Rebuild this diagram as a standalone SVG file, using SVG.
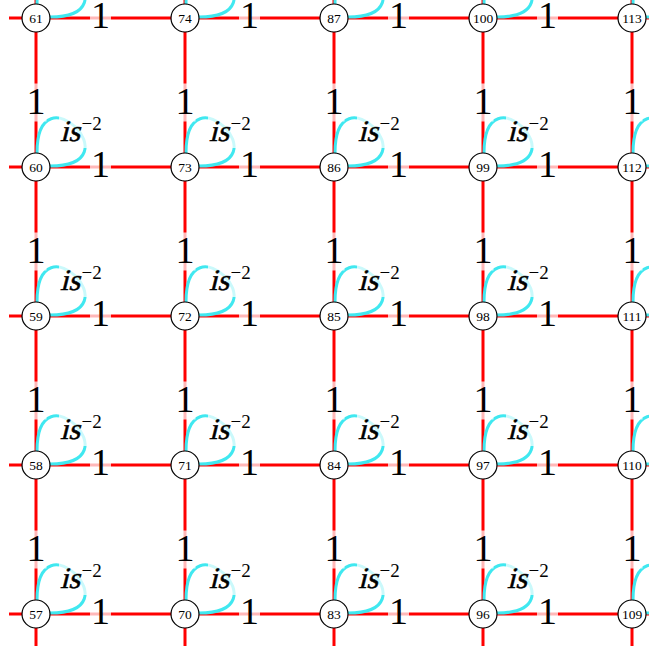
<svg xmlns="http://www.w3.org/2000/svg" xmlns:xlink="http://www.w3.org/1999/xlink" width="649" height="646" viewBox="0 0 649 646">
<style>
.e{stroke:#ff0000;stroke-width:3;fill:none}
.lp{stroke:#40e8f0;stroke-width:3;fill:none}
.bg{fill:#ffffff;fill-opacity:0.72}
.one{font-family:"Liberation Serif","Times New Roman",serif;font-size:38px;text-anchor:middle;fill:#000}
.ls{font-family:"Liberation Serif","Times New Roman",serif;font-size:30px;fill:#000;stroke:#000;stroke-width:0.5}
.sup{font-family:"Liberation Serif","Times New Roman",serif;font-size:19px;fill:#000}
.nd circle{fill:#fff;stroke:#000;stroke-width:1.2}
.nd text{font-family:"Liberation Serif","Times New Roman",serif;font-size:13.5px;text-anchor:middle;fill:#000}
</style>
<defs>
<path id="loop" class="lp" d="M1,-14 C1,-100 100,-1 14,-1"/>
<g id="looplabel"><rect class="bg" x="23" y="-53" width="44" height="34"/><g transform="translate(24,-26) skewX(-14)"><text class="ls" x="0" y="0">is</text></g><text class="sup" x="45.5" y="-37">−2</text></g>
<g id="hl"><rect class="bg" x="-10.5" y="-30" width="21" height="38"/><text class="one" x="0" y="0">1</text></g>
</defs>
<g id="connectors">
<g id="edges">
<line class="e" x1="9" y1="18" x2="649" y2="18"/>
<line class="e" x1="9" y1="167" x2="649" y2="167"/>
<line class="e" x1="9" y1="316" x2="649" y2="316"/>
<line class="e" x1="9" y1="465" x2="649" y2="465"/>
<line class="e" x1="9" y1="614" x2="649" y2="614"/>
<line class="e" x1="36" y1="0" x2="36" y2="646"/>
<line class="e" x1="185" y1="0" x2="185" y2="646"/>
<line class="e" x1="334" y1="0" x2="334" y2="646"/>
<line class="e" x1="483" y1="0" x2="483" y2="646"/>
<line class="e" x1="632" y1="0" x2="632" y2="646"/>
</g>
<g id="loops">
<use xlink:href="#loop" x="36" y="18"/><use xlink:href="#loop" x="36" y="167"/><use xlink:href="#loop" x="36" y="316"/><use xlink:href="#loop" x="36" y="465"/><use xlink:href="#loop" x="36" y="614"/>
<use xlink:href="#loop" x="185" y="18"/><use xlink:href="#loop" x="185" y="167"/><use xlink:href="#loop" x="185" y="316"/><use xlink:href="#loop" x="185" y="465"/><use xlink:href="#loop" x="185" y="614"/>
<use xlink:href="#loop" x="334" y="18"/><use xlink:href="#loop" x="334" y="167"/><use xlink:href="#loop" x="334" y="316"/><use xlink:href="#loop" x="334" y="465"/><use xlink:href="#loop" x="334" y="614"/>
<use xlink:href="#loop" x="483" y="18"/><use xlink:href="#loop" x="483" y="167"/><use xlink:href="#loop" x="483" y="316"/><use xlink:href="#loop" x="483" y="465"/><use xlink:href="#loop" x="483" y="614"/>
<use xlink:href="#loop" x="632" y="18"/><use xlink:href="#loop" x="632" y="167"/><use xlink:href="#loop" x="632" y="316"/><use xlink:href="#loop" x="632" y="465"/><use xlink:href="#loop" x="632" y="614"/>
</g>
<g id="loop-labels">
<use xlink:href="#looplabel" x="36" y="18"/><use xlink:href="#looplabel" x="36" y="167"/><use xlink:href="#looplabel" x="36" y="316"/><use xlink:href="#looplabel" x="36" y="465"/><use xlink:href="#looplabel" x="36" y="614"/>
<use xlink:href="#looplabel" x="185" y="18"/><use xlink:href="#looplabel" x="185" y="167"/><use xlink:href="#looplabel" x="185" y="316"/><use xlink:href="#looplabel" x="185" y="465"/><use xlink:href="#looplabel" x="185" y="614"/>
<use xlink:href="#looplabel" x="334" y="18"/><use xlink:href="#looplabel" x="334" y="167"/><use xlink:href="#looplabel" x="334" y="316"/><use xlink:href="#looplabel" x="334" y="465"/><use xlink:href="#looplabel" x="334" y="614"/>
<use xlink:href="#looplabel" x="483" y="18"/><use xlink:href="#looplabel" x="483" y="167"/><use xlink:href="#looplabel" x="483" y="316"/><use xlink:href="#looplabel" x="483" y="465"/><use xlink:href="#looplabel" x="483" y="614"/>
</g>
<g id="edge-labels">
<use xlink:href="#hl" x="100.5" y="28"/><use xlink:href="#hl" x="249.5" y="28"/><use xlink:href="#hl" x="398.5" y="28"/><use xlink:href="#hl" x="547.5" y="28"/>
<use xlink:href="#hl" x="100.5" y="177"/><use xlink:href="#hl" x="249.5" y="177"/><use xlink:href="#hl" x="398.5" y="177"/><use xlink:href="#hl" x="547.5" y="177"/>
<use xlink:href="#hl" x="100.5" y="326"/><use xlink:href="#hl" x="249.5" y="326"/><use xlink:href="#hl" x="398.5" y="326"/><use xlink:href="#hl" x="547.5" y="326"/>
<use xlink:href="#hl" x="100.5" y="475"/><use xlink:href="#hl" x="249.5" y="475"/><use xlink:href="#hl" x="398.5" y="475"/><use xlink:href="#hl" x="547.5" y="475"/>
<use xlink:href="#hl" x="100.5" y="624"/><use xlink:href="#hl" x="249.5" y="624"/><use xlink:href="#hl" x="398.5" y="624"/><use xlink:href="#hl" x="547.5" y="624"/>
<use xlink:href="#hl" x="36" y="113.5"/><use xlink:href="#hl" x="36" y="262.5"/><use xlink:href="#hl" x="36" y="411.5"/><use xlink:href="#hl" x="36" y="560.5"/>
<use xlink:href="#hl" x="185" y="113.5"/><use xlink:href="#hl" x="185" y="262.5"/><use xlink:href="#hl" x="185" y="411.5"/><use xlink:href="#hl" x="185" y="560.5"/>
<use xlink:href="#hl" x="334" y="113.5"/><use xlink:href="#hl" x="334" y="262.5"/><use xlink:href="#hl" x="334" y="411.5"/><use xlink:href="#hl" x="334" y="560.5"/>
<use xlink:href="#hl" x="483" y="113.5"/><use xlink:href="#hl" x="483" y="262.5"/><use xlink:href="#hl" x="483" y="411.5"/><use xlink:href="#hl" x="483" y="560.5"/>
<use xlink:href="#hl" x="632" y="113.5"/><use xlink:href="#hl" x="632" y="262.5"/><use xlink:href="#hl" x="632" y="411.5"/><use xlink:href="#hl" x="632" y="560.5"/>
</g>
</g>
<g id="n61" class="nd"><circle cx="36" cy="18" r="14"/><text x="36" y="22.5">61</text></g>
<g id="n60" class="nd"><circle cx="36" cy="167" r="14"/><text x="36" y="171.5">60</text></g>
<g id="n59" class="nd"><circle cx="36" cy="316" r="14"/><text x="36" y="320.5">59</text></g>
<g id="n58" class="nd"><circle cx="36" cy="465" r="14"/><text x="36" y="469.5">58</text></g>
<g id="n57" class="nd"><circle cx="36" cy="614" r="14"/><text x="36" y="618.5">57</text></g>
<g id="n74" class="nd"><circle cx="185" cy="18" r="14"/><text x="185" y="22.5">74</text></g>
<g id="n73" class="nd"><circle cx="185" cy="167" r="14"/><text x="185" y="171.5">73</text></g>
<g id="n72" class="nd"><circle cx="185" cy="316" r="14"/><text x="185" y="320.5">72</text></g>
<g id="n71" class="nd"><circle cx="185" cy="465" r="14"/><text x="185" y="469.5">71</text></g>
<g id="n70" class="nd"><circle cx="185" cy="614" r="14"/><text x="185" y="618.5">70</text></g>
<g id="n87" class="nd"><circle cx="334" cy="18" r="14"/><text x="334" y="22.5">87</text></g>
<g id="n86" class="nd"><circle cx="334" cy="167" r="14"/><text x="334" y="171.5">86</text></g>
<g id="n85" class="nd"><circle cx="334" cy="316" r="14"/><text x="334" y="320.5">85</text></g>
<g id="n84" class="nd"><circle cx="334" cy="465" r="14"/><text x="334" y="469.5">84</text></g>
<g id="n83" class="nd"><circle cx="334" cy="614" r="14"/><text x="334" y="618.5">83</text></g>
<g id="n100" class="nd"><circle cx="483" cy="18" r="14"/><text x="483" y="22.5">100</text></g>
<g id="n99" class="nd"><circle cx="483" cy="167" r="14"/><text x="483" y="171.5">99</text></g>
<g id="n98" class="nd"><circle cx="483" cy="316" r="14"/><text x="483" y="320.5">98</text></g>
<g id="n97" class="nd"><circle cx="483" cy="465" r="14"/><text x="483" y="469.5">97</text></g>
<g id="n96" class="nd"><circle cx="483" cy="614" r="14"/><text x="483" y="618.5">96</text></g>
<g id="n113" class="nd"><circle cx="632" cy="18" r="14"/><text x="632" y="22.5">113</text></g>
<g id="n112" class="nd"><circle cx="632" cy="167" r="14"/><text x="632" y="171.5">112</text></g>
<g id="n111" class="nd"><circle cx="632" cy="316" r="14"/><text x="632" y="320.5">111</text></g>
<g id="n110" class="nd"><circle cx="632" cy="465" r="14"/><text x="632" y="469.5">110</text></g>
<g id="n109" class="nd"><circle cx="632" cy="614" r="14"/><text x="632" y="618.5">109</text></g>
</svg>
